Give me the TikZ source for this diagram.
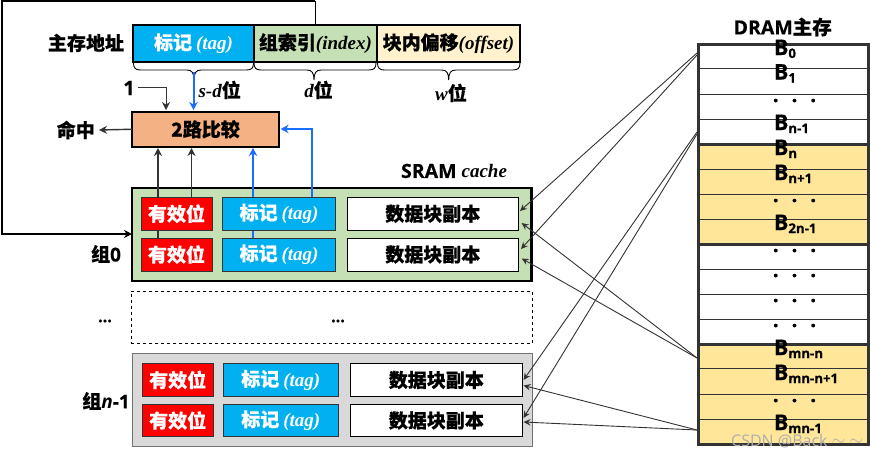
\documentclass[tikz,border=0pt]{standalone}
\usepackage{fontspec}
\setmainfont{Noto Sans CJK SC}[BoldFeatures={FakeBold=0.5}]
\newfontfamily\lat{Open Sans}[BoldFeatures={FakeBold=0.4}]
\newfontfamily\ser{Liberation Serif}
\usetikzlibrary{arrows.meta,calc}
\definecolor{tagblue}{HTML}{00B0F0}
\definecolor{wireblue}{HTML}{1A6EFF}
\definecolor{wire}{HTML}{333333}
\definecolor{grn}{HTML}{C5E0B4}
\definecolor{crm}{HTML}{FFF2CC}
\definecolor{org}{HTML}{F4B183}
\definecolor{gold}{HTML}{FFE699}
\definecolor{gry}{HTML}{D9D9D9}
\newcommand{\bx}[7][]{%
  \pgfmathsetmacro{\bw}{#5-#3}\pgfmathsetmacro{\bh}{#6-#4}%
  \node[rect,#1,minimum width=\bw pt,minimum height=\bh pt,anchor=north west] (#2) at (#3,#4) {#7};}
\newcommand{\brc}[4]{% x1 tip x2 y
  \draw[bracestyle] (#1,#4) .. controls (#1,#4+5) and (#1+2,#4+7) .. (#1+7,#4+7) -- (#2-7,#4+7)
    .. controls (#2-2,#4+7) and (#2,#4+10) .. (#2,#4+17)
    .. controls (#2,#4+10) and (#2+2,#4+7) .. (#2+7,#4+7) -- (#3-7,#4+7)
    .. controls (#3-2,#4+7) and (#3,#4+5) .. (#3,#4);}
\newcommand{\tagtxt}[1][white]{\color{#1}\bfseries 标记\hspace{4pt}{\ser\itshape(tag)}}
\newcommand{\bl}[2]{{\lat\bfseries\fontsize{21.5}{21}\selectfont B\raisebox{-3pt}{\fontsize{13.2}{14}\selectfont #2}}}
\tikzset{
  rect/.style={inner sep=0pt,outer sep=0pt,font=\fontsize{19}{20}\selectfont},
  lab/.style={inner sep=0pt,outer sep=0pt,font=\fontsize{19}{20}\selectfont\bfseries},
  bracestyle/.style={draw=black,line width=0.9pt},
  blk/.style={draw=wire,line width=1.4pt,-{Stealth[length=8pt,width=8pt]}},
  blu/.style={draw=wireblue,line width=2pt,-{Stealth[length=8pt,width=8.5pt]}},
  thinarrow/.style={draw=wire,line width=0.9pt,-{Stealth[length=7pt,width=6.5pt,inset=2.5pt]}},
  validbox/.style={fill=red,draw=wire,line width=1pt,text=white,font=\fontsize{19}{20}\selectfont\bfseries},
  tagbox/.style={fill=tagblue,draw=wire,line width=1pt},
  databox/.style={fill=white,draw=black,line width=1pt,font=\fontsize{19}{20}\selectfont\bfseries},
  barbox/.style={draw=black,line width=2pt},
  memrow/.style={draw=wire,line width=1pt},
  memedge/.style={draw=wire,line width=3pt},
  blab/.style={inner sep=0pt,outer sep=0pt,anchor=base west},
  dotslab/.style={inner sep=0pt,outer sep=0pt,anchor=base,font=\lat\bfseries\fontsize{21}{21}\selectfont},
}
\begin{document}
\begin{tikzpicture}[x=1pt,y=-1pt]
\useasboundingbox (0,0) rectangle (870,456);
% address bar
\bx[barbox,fill=tagblue]{atag}{133.3}{25}{253.8}{62}{\tagtxt}
\bx[barbox,fill=grn]{aidx}{253.8}{25}{377}{62}{\bfseries 组索引{\ser\itshape(index)}}
\bx[barbox,fill=crm]{aoff}{377}{25}{520}{62}{\bfseries 块内偏移{\ser\itshape(offset)}}
\node[lab] (addr) at (86,43) {主存地址};
\brc{133.5}{194}{253.5}{63}
\brc{254}{314}{376}{63}
\brc{377.5}{448.7}{520}{63}
\node[lab] (lsd) at (219.7,90) {{\ser\itshape s-d}位};
\node[lab] (ld) at (318.5,90) {{\ser\itshape d}位};
\node[lab] (lw) at (451,93) {{\ser\itshape w}位};
\node[lab,font=\lat\bfseries\fontsize{20}{20}\selectfont] (one) at (129,88) {1};
% compare
\bx[barbox,fill=org]{cmp}{132}{112}{279}{146.5}{\bfseries 2路比较}
\node[lab] (hit) at (75.8,130) {命中};
\node[lab,font=\lat\bfseries\fontsize{19.5}{20}\selectfont] (sram) at (454,171) {SRAM {\ser\itshape\fontsize{19}{20}\selectfont cache}};
% group 0 background
\bx[fill=grn,draw=black,line width=2.5pt]{g0}{132}{188}{531.5}{281}{}
% outer line
\coordinate (outend) at (132,234);
\draw[draw=black,line width=2pt,-{Stealth[length=8pt,width=8pt]}] (315.4,1) -- (2,1) -- (2,234) -- (outend);
\draw[draw=black,line width=1pt] (aidx.north) -- (315.4,1);
% top connectors
\coordinate (oneport) at (166,110);
\draw[blk,line width=1pt] (one.east)++(3,-1) -| (oneport);
\coordinate (tagport) at (193.5,72);
\coordinate (tagin) at (193.5,110);
\draw[blu] (tagport) -- (tagin);
\draw[blk] (cmp.west) -- (hit.east -| 99,129.5);
% connectors up to compare
\coordinate (c1) at (158,148);
\coordinate (c2) at (191.5,148);
\coordinate (c3) at (253,148);
\coordinate (c4) at (280.6,129);
\draw[blk] (158,238) -- (c1);
\draw[blk] (191.5,197.5) -- (c2);
\draw[blu] (253,238) -- (c3);
\draw[blu] (311.6,197.5) |- (c4);
% group 0 rows
\bx[validbox]{v01}{141}{197.5}{212}{230}{有效位}
\bx[tagbox]{t01}{222.5}{197.5}{335.7}{230}{\tagtxt}
\bx[databox]{d01}{347}{197.5}{518.6}{230}{数据块副本}
\bx[validbox]{v02}{141}{238}{212}{271}{有效位}
\bx[tagbox]{t02}{222.5}{238}{335.7}{271}{\tagtxt}
\bx[databox]{d02}{347}{238}{518.6}{271}{数据块副本}
\node[lab] (g0l) at (106,254) {组{\lat 0}};
% dashed
\bx[draw=black,line width=1pt,dashed]{gd}{131}{291}{532.7}{343}{}
\node[lab,font=\lat\bfseries\fontsize{16}{20}\selectfont] (dl) at (105,321) {...};
\node[lab,font=\lat\bfseries\fontsize{16}{20}\selectfont] (dm) at (338,321) {...};
% group n-1
\bx[fill=gry,draw=black!55,line width=1pt]{gn}{132.2}{353.5}{532.7}{446.5}{}
\bx[validbox]{vn1}{142}{363.5}{213.5}{396.5}{有效位}
\bx[tagbox]{tn1}{223}{363.5}{338.5}{396.5}{\tagtxt}
\bx[databox]{dn1}{350}{363.5}{522.7}{396.5}{数据块副本}
\bx[validbox]{vn2}{142}{404.5}{213.5}{436.5}{有效位}
\bx[tagbox]{tn2}{223}{404.5}{338.5}{436.5}{\tagtxt}
\bx[databox]{dn2}{350}{404.5}{522.7}{436.5}{数据块副本}
\node[lab] (gnl) at (106,401) {组{\lat\itshape n}{\lat -1}};
% DRAM
\node[lab,font=\lat\bfseries\fontsize{19.5}{20}\selectfont] (dtitle) at (782.7,27) {DRAM{\rmfamily 主存}};
\bx[fill=white,draw=none]{m0}{698}{44}{868}{144}{}
\bx[fill=gold,draw=none]{m1}{698}{144}{868}{244.5}{}
\bx[fill=white,draw=none]{m2}{698}{244.5}{868}{344}{}
\bx[fill=gold,draw=none]{m3}{698}{344}{868}{444}{}
\foreach \yy in {68,94,119,169,194,219,269,294,319,368,394,419.5}{
  \draw[memrow] (698,\yy) -- (868,\yy);
}
\foreach \yy in {144,244.5,344}{
  \draw[memedge] (698,\yy) -- (868,\yy);
}
\draw[memedge] (698,44) rectangle (868,444);
\node[blab] (b0) at (774,55) {\bl{}{0}};
\node[blab] (b1) at (774,79.5) {\bl{}{1}};
\node[blab] (b2) at (774,130) {\bl{}{n-1}};
\node[blab] (b3) at (774,155) {\bl{}{n}};
\node[blab] (b4) at (774,180) {\bl{}{n+1}};
\node[blab] (b5) at (774,230) {\bl{}{2n-1}};
\node[blab] (b6) at (774,355) {\bl{}{mn-n}};
\node[blab] (b7) at (774,380) {\bl{}{mn-n+1}};
\node[blab] (b8) at (774,430) {\bl{}{mn-1}};
\foreach \yy/\nm in {102/p1,202/p2,252/p3,277/p4,302/p5,327/p6,402/p7}{
  \node[dotslab] (\nm) at (794.5,\yy) {\makebox[18.75pt]{.}\makebox[18.75pt]{.}\makebox[18.75pt]{.}};
}
% ports and mapping arrows
\coordinate (s1a) at (697,53);
\coordinate (s1b) at (697,55);
\coordinate (s2a) at (697,132);
\coordinate (s2b) at (697,134);
\coordinate (s3a) at (697,358);
\coordinate (s3b) at (697,358);
\coordinate (s4a) at (697,430);
\coordinate (s4b) at (697,430);
\coordinate (e1) at (520,211);
\coordinate (e2) at (521,249);
\coordinate (e3) at (521.7,223);
\coordinate (e4) at (521.7,258.5);
\coordinate (e5) at (523.5,380);
\coordinate (e6) at (523.5,418);
\coordinate (e7) at (523.5,385.5);
\coordinate (e8) at (523.5,422);
\draw[thinarrow] (s1a) -- (e1);
\draw[thinarrow] (s1b) -- (e2);
\draw[thinarrow] (s2a) -- (e5);
\draw[thinarrow] (s2b) -- (e6);
\draw[thinarrow] (s3a) -- (e3);
\draw[thinarrow] (s3b) -- (e4);
\draw[thinarrow] (s4a) -- (e7);
\draw[thinarrow] (s4b) -- (e8);
% watermark
\node[inner sep=0pt,text=black!32,font=\lat\fontsize{16}{16}\selectfont] (wm) at (797,441) {CSDN @Back \raisebox{1pt}{$\sim$} \raisebox{1pt}{$\sim$}};
\end{tikzpicture}
\end{document}
